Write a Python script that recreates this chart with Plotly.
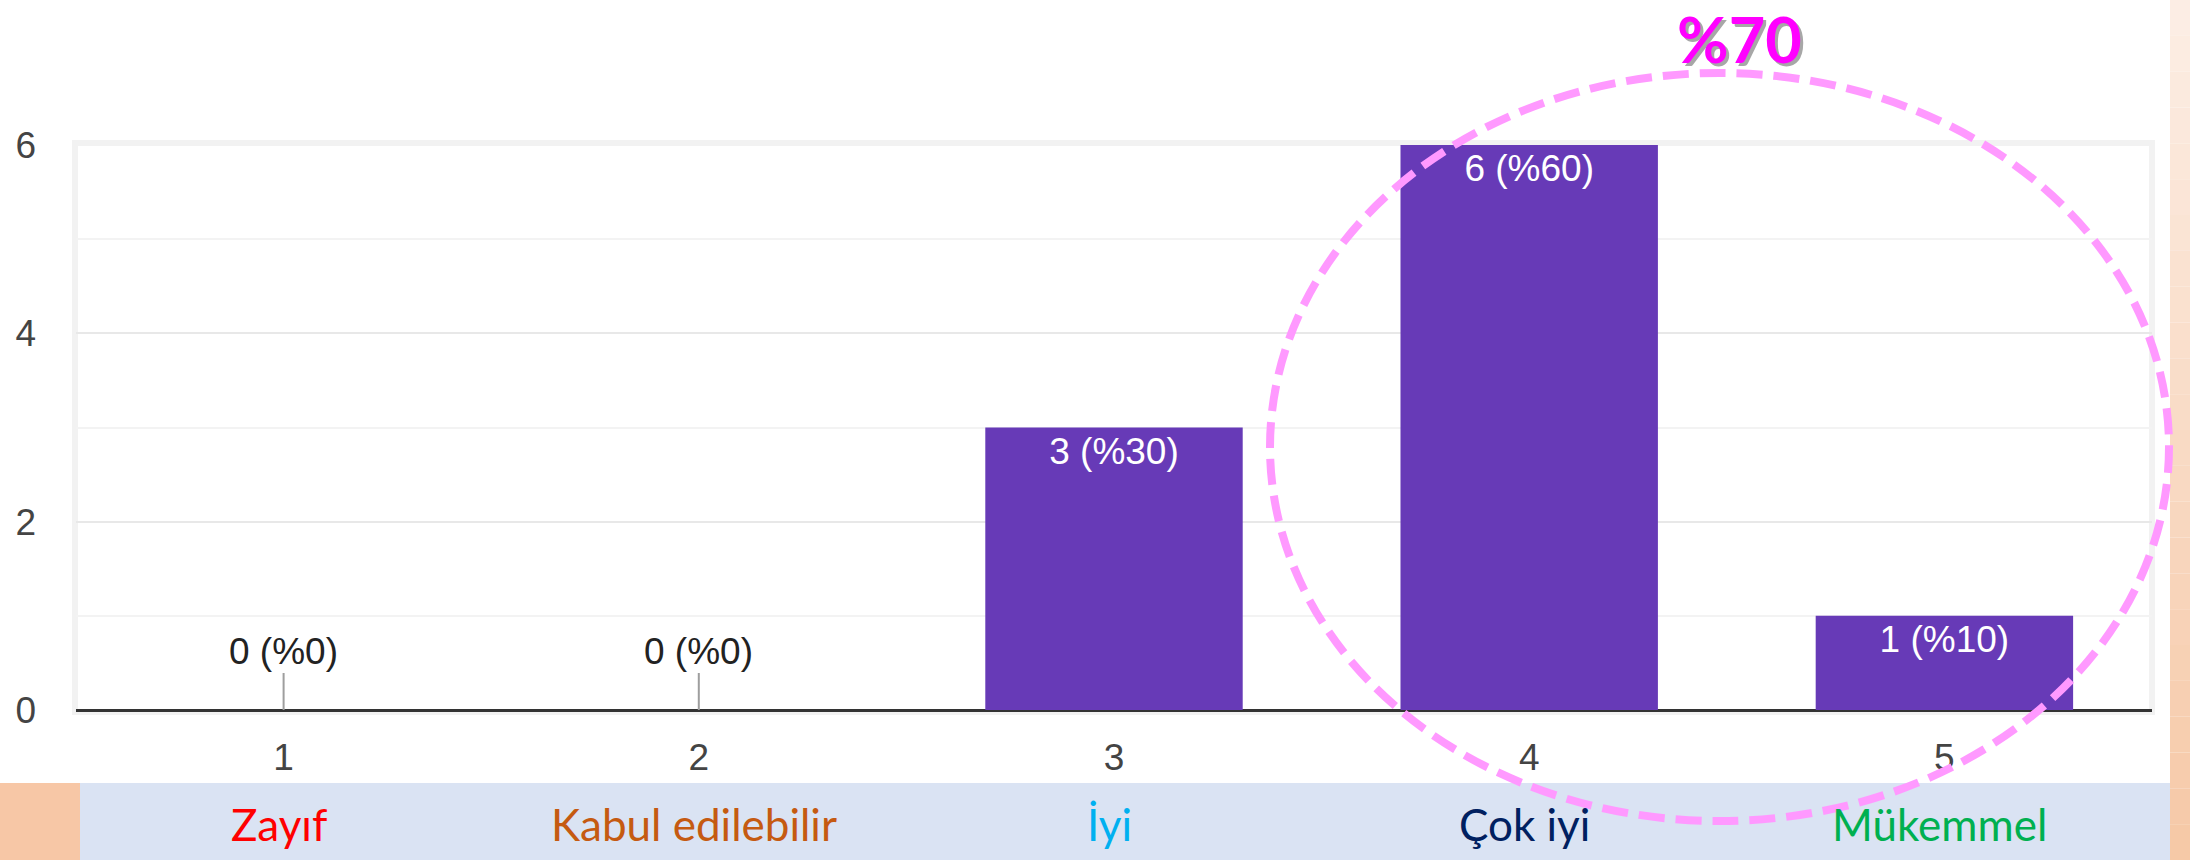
import plotly.graph_objects as go

# ---------------- data ----------------
categories = ["1", "2", "3", "4", "5"]
counts = [0, 0, 3, 6, 1]
percents = [0, 0, 30, 60, 10]
band_labels = ["Zayıf", "Kabul edilebilir", "İyi", "Çok iyi", "Mükemmel"]
band_colors = ["#FF0000", "#C55A11", "#00B0F0", "#002060", "#00B050"]
y_tickvals = [0, 2, 4, 6]
highlight_text = "%70"

# ---------------- layout geometry (pixels) ----------------
W, H = 2190, 860
ML, MR, MT, MB = 76, 38, 145, 150
PW = W - ML - MR
PH = H - MT - MB


def px_x(px):
    return (px - ML) / PW


def px_y(py):
    return (H - MB - py) / PH


labels = [f"{c} (%{p})" for c, p in zip(counts, percents)]
FONT = "Liberation Sans, Arial, sans-serif"

fig = go.Figure()
fig.add_trace(go.Bar(
    x=categories,
    y=counts,
    marker=dict(color="#673AB7", line=dict(width=0)),
    text=[lab if c > 0 else "" for lab, c in zip(labels, counts)],
    textposition="inside",
    insidetextanchor="end",
    textangle=0,
    constraintext="none",
    insidetextfont=dict(family=FONT, size=37, color="#FFFFFF"),
    hoverinfo="skip",
))

annotations = []
# zero-value labels with small stub (category axis -> use category index)
for i, (c, lab) in enumerate(zip(counts, labels)):
    if c == 0:
        annotations.append(dict(
            x=i, y=0, xref="x", yref="y", text=lab,
            showarrow=True, arrowhead=0, arrowwidth=2, arrowcolor="#9E9E9E",
            ax=0, ay=-59, font=dict(family=FONT, size=37, color="#222222"),
        ))

# band category labels
for i, (lab, col) in enumerate(zip(band_labels, band_colors)):
    annotations.append(dict(
        x=i, xref="x", y=px_y(824), yref="paper", text=lab, showarrow=False,
        xshift=-5, xanchor="center", yanchor="middle",
        font=dict(family="Lato, sans-serif", size=44, color=col),
    ))

# highlight text with shadow
annotations.append(dict(
    x=px_x(1739), y=px_y(39), xref="paper", yref="paper", xshift=3, yshift=-3,
    xanchor="center", yanchor="middle", borderpad=0,
    text=f"<b>{highlight_text}</b>", showarrow=False,
    font=dict(family="Lato, sans-serif", size=63, color="rgba(60,60,60,0.45)"),
))
annotations.append(dict(
    x=px_x(1739), y=px_y(39), xref="paper", yref="paper",
    xanchor="center", yanchor="middle", borderpad=0,
    text=f"<b>{highlight_text}</b>", showarrow=False,
    font=dict(family="Lato, sans-serif", size=63, color="#FF00FF"),
))

shapes = []
# plot frame
shapes.append(dict(type="rect", xref="paper", yref="paper", x0=px_x(75), x1=px_x(2152),
                   y0=px_y(712), y1=px_y(143), line=dict(color="#F2F2F2", width=6),
                   layer="below"))
# bottom band
shapes.append(dict(type="rect", xref="paper", yref="paper", x0=px_x(80), x1=px_x(2170),
                   y0=px_y(860), y1=px_y(783), fillcolor="#DAE3F3", line=dict(width=0),
                   layer="below"))
shapes.append(dict(type="rect", xref="paper", yref="paper", x0=px_x(0), x1=px_x(80),
                   y0=px_y(860), y1=px_y(783), fillcolor="#F7C7A6", line=dict(width=0),
                   layer="below"))
# right peach gradient strip
top_c = (252, 238, 229)
bot_c = (246, 200, 166)
n = 24
for i in range(n):
    t = (i + 0.5) / n
    col = tuple(round(a + (b - a) * t) for a, b in zip(top_c, bot_c))
    shapes.append(dict(type="rect", xref="paper", yref="paper", x0=px_x(2170), x1=px_x(2190),
                       y0=px_y(H * (i + 1) / n), y1=px_y(H * i / n),
                       fillcolor="rgb(%d,%d,%d)" % col, line=dict(width=0), layer="below"))
# dashed highlight ellipse
shapes.append(dict(type="circle", xref="paper", yref="paper",
                   x0=px_x(1270), x1=px_x(2169), y0=px_y(821), y1=px_y(73),
                   line=dict(color="#FF99FF", width=8, dash="26px,11px"),
                   fillcolor="rgba(0,0,0,0)", layer="above"))

fig.update_layout(
    width=W, height=H,
    margin=dict(l=ML, r=MR, t=MT, b=MB, pad=0),
    paper_bgcolor="white", plot_bgcolor="white",
    showlegend=False,
    bargap=0.38,
    annotations=annotations,
    shapes=shapes,
    xaxis=dict(type="category", range=[-0.5, 4.5], showgrid=False, zeroline=False,
               showline=False, ticks="", ticklabelstandoff=22,
               tickfont=dict(family=FONT, size=37, color="#444444"), fixedrange=True),
    yaxis=dict(range=[0, 6], tickvals=y_tickvals, showgrid=True, gridcolor="#E8E8E8",
               gridwidth=2,
               minor=dict(dtick=1, tick0=0, showgrid=True, gridcolor="#F3F3F3", gridwidth=2),
               zeroline=True, zerolinecolor="#333333", zerolinewidth=3,
               showline=False, ticks="", ticklabelstandoff=39,
               tickfont=dict(family=FONT, size=37, color="#444444"), fixedrange=True),
)

fig.write_html("out.html", config={"displayModeBar": False},
               post_script="document.body.style.margin='0';document.body.style.overflow='hidden';")
